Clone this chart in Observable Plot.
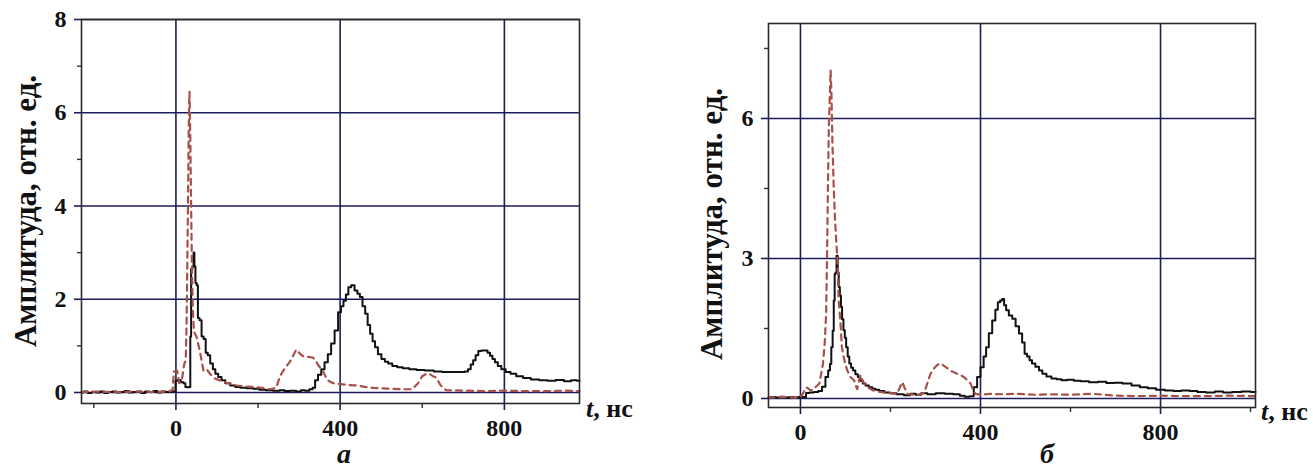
<!DOCTYPE html>
<html>
<head>
<meta charset="utf-8">
<script src="https://cdn.jsdelivr.net/npm/d3@7"></script>
<script src="https://cdn.jsdelivr.net/npm/@observablehq/plot@0.6"></script>
<style>
  html, body { margin: 0; padding: 0; background: #fff; }
  #wrap { position: relative; width: 1313px; height: 468px; overflow: hidden; font-family: "Liberation Serif", "Times New Roman", serif; }
  .pane { position: absolute; top: 0; }
  .lbl { position: absolute; font-weight: bold; color: #111; white-space: nowrap; line-height: 1; }
  .ylab { font-size: 31px; transform: translate(-50%, -50%) rotate(-90deg); }
  .unit { font-size: 26px; }
  .cap { font-size: 28px; font-style: italic; transform: translate(-50%, 0); }
</style>
</head>
<body>
<div id="wrap"></div>
<script>
// ---------- Panel "а" data ----------
const aBlackT = [-230,-220,-210,-200,-190,-180,-170,-160,-150,-140,-130,-120,-110,-100,-90,-80,-70,-60,-50,-40,-30,-20,-10,-2,0,8,15,22,24,30,34,36,38,42,44,46,49,52,55,60,65,70,75,80,87,93,99,107,115,125,139,150,164,180,196,210,228,245,260,269,285,300,309,320,330,336,342,350,358,366,374,382,391,399,405,411,417,423,431,439,445,451,458,464,470,476,482,488,496,505,513,521,533,545,560,577,595,618,638,658,680,699,708,715,721,727,733,740,748,756,762,768,774,780,788,797,809,821,837,854,875,895,915,935,955,970,983];
const aBlackV = [0.00,0.02,-0.01,0.01,0.00,0.02,-0.01,0.01,0.02,0.00,0.01,0.03,0.00,0.01,0.02,-0.01,0.02,0.01,0.03,0.00,0.02,0.01,0.02,0.02,0.25,0.27,0.22,0.20,0.12,0.11,0.12,1.2,2.65,2.7,3.0,2.7,2.35,2.3,1.6,1.55,1.2,1.15,0.85,0.8,0.62,0.5,0.40,0.33,0.26,0.2,0.15,0.12,0.10,0.09,0.08,0.06,0.05,0.04,0.05,0.03,0.04,0.02,0.05,0.04,0.07,0.10,0.26,0.38,0.50,0.65,0.82,1.05,1.33,1.72,1.85,1.97,2.1,2.26,2.30,2.19,2.12,2.05,1.85,1.69,1.45,1.26,1.10,0.97,0.82,0.72,0.66,0.62,0.57,0.54,0.52,0.50,0.48,0.47,0.45,0.44,0.44,0.44,0.45,0.50,0.60,0.69,0.80,0.89,0.90,0.90,0.85,0.79,0.72,0.65,0.57,0.50,0.44,0.40,0.35,0.31,0.28,0.26,0.25,0.27,0.24,0.26,0.25];
const aRedT = [-230,-200,-150,-100,-50,-20,-8,-5,3,8,15,20,24,26,28,30,31,32,33,35,37,39,41,44,50,58,67,75,83,95,107,125,148,170,188,210,228,244,252,258,268,277,285,293,300,309,317,326,334,340,346,352,358,364,370,383,400,420,440,460,480,500,520,553,575,590,600,610,618,626,634,645,658,700,750,800,850,900,950,983];
const aRedV = [0.01,0.02,0.01,0.02,0.01,0.02,0.05,0.45,0.47,0.2,0.3,0.6,0.7,1.5,3.0,4.5,5.5,6.1,6.45,5.5,4.0,2.7,1.8,1.3,1.2,0.9,0.47,0.5,0.40,0.3,0.26,0.2,0.15,0.13,0.12,0.1,0.07,0.1,0.3,0.42,0.55,0.65,0.78,0.92,0.85,0.78,0.77,0.76,0.75,0.68,0.6,0.52,0.46,0.35,0.26,0.2,0.18,0.16,0.15,0.12,0.1,0.09,0.08,0.07,0.07,0.2,0.35,0.4,0.4,0.35,0.32,0.15,0.05,0.04,0.03,0.04,0.03,0.03,0.04,0.03];
const aXMajor = [0, 400, 800];
const aXMinor = [-200, 200, 600];
const aYMajor = [0, 2, 4, 6, 8];
const aYMinor = [1, 3, 5, 7];

// ---------- Panel "б" data ----------
const bBlackT = [-71,-60,-50,-40,-30,-20,-10,0,10,15,25,35,44,52,59,64,67,70,73,75,77,79,81.5,84,86,89,91,94,97,100,103,107,110,115,119,125,130,136,141,148,156,163,170,180,193,205,222,237,250,262,274,290,311,330,348,360,370,381,389,396,404,410,415,422,430,436,441,446,450,455,459,467,474,482,489,496,500,507,511,518,526,534,541,552,563,575,585,600,615,630,652,670,689,705,726,745,763,780,800,820,837,855,874,890,911,930,948,970,990,1011];
const bBlackV = [0.02,0.03,0.02,0.04,0.02,0.03,0.02,0.03,0.03,0.12,0.13,0.14,0.16,0.25,0.46,0.6,0.74,1.1,1.45,2.1,2.67,2.7,3.06,2.7,2.39,2.2,1.96,1.7,1.46,1.3,1.1,0.9,0.75,0.66,0.6,0.52,0.46,0.38,0.32,0.28,0.24,0.21,0.19,0.16,0.13,0.11,0.09,0.07,0.1,0.08,0.11,0.09,0.11,0.1,0.09,0.06,0.04,0.05,0.24,0.46,0.67,0.9,1.1,1.4,1.67,1.9,2.06,2.1,2.13,2.0,1.89,1.78,1.71,1.55,1.39,1.2,0.96,0.9,0.82,0.75,0.68,0.6,0.53,0.47,0.43,0.41,0.39,0.40,0.38,0.37,0.35,0.36,0.33,0.34,0.32,0.28,0.24,0.22,0.19,0.17,0.16,0.17,0.16,0.14,0.13,0.15,0.13,0.14,0.15,0.14];
const bRedT = [-71,-40,-10,0,5,13,24,31,42,50,54,57,59,61,63,65,67,69,71,74,77,80,82,85,89,92,98,104,111,119,126,133,140,148,160,170,193,215,226,237,259,275,281,289,297,304,312,319,326,333,341,348,356,363,370,378,385,389,400,420,450,480,520,560,600,650,700,750,800,850,900,950,1011];
const bRedV = [0.02,0.03,0.02,0.03,0.1,0.24,0.17,0.22,0.32,0.74,1.2,1.8,3.0,4.5,5.8,6.4,7.03,6.5,5.5,4.5,3.8,3.3,3.0,2.1,1.6,1.1,0.8,0.6,0.46,0.39,0.2,0.5,0.35,0.25,0.18,0.15,0.12,0.1,0.35,0.1,0.07,0.12,0.3,0.53,0.65,0.72,0.75,0.7,0.65,0.6,0.56,0.53,0.5,0.46,0.4,0.32,0.15,0.1,0.08,0.1,0.09,0.1,0.08,0.09,0.08,0.1,0.06,0.05,0.06,0.05,0.05,0.06,0.05];
const bXMajor = [0, 400, 800];
const bXMinor = [200, 600, 1000];
const bYMajor = [0, 3, 6];
const bYMinor = [1.5, 4.5, 7.5];

const yLabel = "Амплитуда, отн. ед.";
const tLabel = ["t", ", нс"];
const captions = ["а", "б"];

const GRID = "#1d1d5c";
const BLACK = "#111";
const RED = "#a8504a";

function zip(t, v) { return t.map((x, i) => ({t: x, v: v[i]})); }

function panel(o) {
  const black = zip(o.blackT, o.blackV);
  const red = zip(o.redT, o.redV);
  return Plot.plot({
    width: o.width, height: 468,
    marginLeft: o.ml, marginRight: o.mr, marginTop: o.mt, marginBottom: o.mb,
    x: {domain: o.xDomain, label: null},
    y: {domain: o.yDomain, label: null},
    style: {fontFamily: "'Liberation Serif', 'Times New Roman', serif", fontSize: "24px", fontWeight: "bold", color: "#111", background: "transparent", overflow: "visible"},
    marks: [
      Plot.gridX(o.xMajor, {stroke: GRID, strokeOpacity: 1, strokeWidth: 1.6}),
      Plot.gridY(o.yMajor, {stroke: GRID, strokeOpacity: 1, strokeWidth: 1.6}),
      Plot.axisX(o.xMajor, {tickSize: 7, tickPadding: 8, stroke: GRID, strokeWidth: 1.6, fill: "#111", label: null}),
      Plot.axisX(o.xMinor, {tickSize: 5, stroke: "#333", strokeWidth: 1.4, tickFormat: () => "", label: null}),
      Plot.axisY(o.yMajor, {tickSize: 7, tickPadding: 8, stroke: GRID, strokeWidth: 1.6, fill: "#111", label: null}),
      Plot.axisY(o.yMinor, {tickSize: 4, stroke: "#333", strokeWidth: 1.4, tickFormat: () => "", label: null}),
      Plot.line(black, {x: "t", y: "v", stroke: BLACK, strokeWidth: 2, curve: "step"}),
      Plot.line(red, {x: "t", y: "v", stroke: RED, strokeWidth: 2.2, strokeDasharray: "6,5", curve: "linear"}),
      Plot.frame({stroke: "#2a2a2a", strokeWidth: 1.6})
    ]
  });
}

const wrap = document.getElementById("wrap");

const pa = panel({blackT: aBlackT, blackV: aBlackV, redT: aRedT, redV: aRedV,
  xMajor: aXMajor, xMinor: aXMinor, yMajor: aYMajor, yMinor: aYMinor,
  xDomain: [-230, 983], yDomain: [-0.236, 8], width: 656, ml: 81, mr: 77, mt: 19, mb: 65});
const pb = panel({blackT: bBlackT, blackV: bBlackV, redT: bRedT, redV: bRedV,
  xMajor: bXMajor, xMinor: bXMinor, yMajor: bYMajor, yMinor: bYMinor,
  xDomain: [-71, 1011], yDomain: [-0.193, 8.035], width: 657, ml: 112, mr: 58, mt: 23, mb: 61});

const da = document.createElement("div"); da.className = "pane"; da.style.left = "0px"; da.appendChild(pa); wrap.appendChild(da);
const db = document.createElement("div"); db.className = "pane"; db.style.left = "656px"; db.appendChild(pb); wrap.appendChild(db);

function addLabel(html, cls, x, y) {
  const el = document.createElement("div");
  el.className = "lbl " + cls;
  el.innerHTML = html;
  el.style.left = x + "px"; el.style.top = y + "px";
  wrap.appendChild(el);
}
addLabel(yLabel, "ylab", 25, 211);
addLabel(yLabel, "ylab", 711, 224);
const tHtml = "<i>" + tLabel[0] + "</i>" + tLabel[1];
addLabel(tHtml, "unit", 586, 396);
addLabel(tHtml, "unit", 1261, 399);
addLabel(captions[0], "cap", 344, 440);
addLabel(captions[1], "cap", 1047, 440);
</script>
</body>
</html>
